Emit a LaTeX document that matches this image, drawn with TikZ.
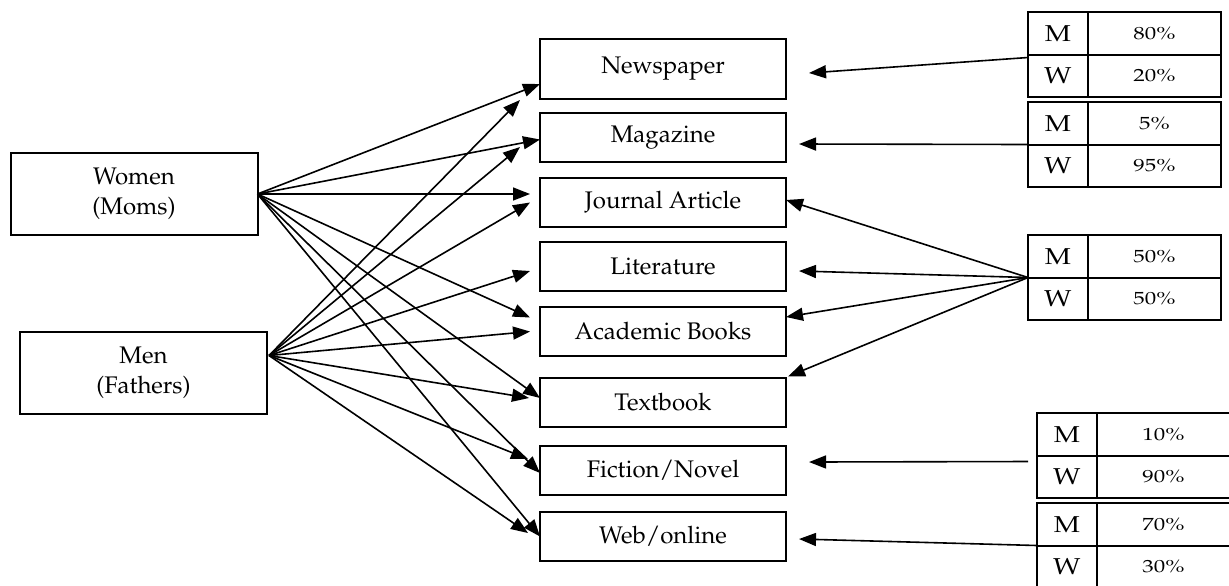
\documentclass[tikz,border=0pt]{standalone}
\usepackage[T1]{fontenc}
\usepackage{palatino}
\usetikzlibrary{arrows.meta,
                calc,
                positioning}

% table text is set a little wider than normal
\newcommand\wide[2][1.2]{\scalebox{#1}[1]{#2}}
% one M/W table: name, top-left corner, M value, W value
\newcommand\pctable[5]{%
    \node[lcell, anchor=north west] (#1m) at (#2,#3) {\wide{M}};
    \node[vcell, anchor=north west] (#1mv) at (#1m.north east) {\wide[1.3]{#4}};
    \node[lcell, anchor=north west] (#1w) at (#1m.south west) {\wide{W}};
    \node[vcell, anchor=north west] (#1wv) at (#1w.north east) {\wide[1.3]{#5}};
}

\begin{document}
\begin{tikzpicture}[x=0.5pt, y=-0.5pt,
every node/.style = {font=\fontsize{12}{15}\selectfont},
box/.style   = {draw, line width=1pt, inner sep=0pt, outer sep=0pt,
                align=center},
group/.style = {box, minimum width=123.5pt, minimum height=41pt},
media/.style = {box, minimum width=123pt, minimum height=24.5pt},
lcell/.style = {box, minimum width=30pt, minimum height=21.25pt,
                font=\fontsize{11.5}{13}\selectfont},
vcell/.style = {box, minimum width=66.5pt, minimum height=21.25pt,
                font=\fontsize{8.8}{10}\selectfont},
arr/.style   = {draw, line width=0.8pt,
                -{Triangle[length=8.5pt, width=6.5pt]}}
                    ]
\useasboundingbox (0,0) rectangle (1229,585);
% parents
\node[group] (women) at (134,194)   {Women\\(Moms)};
\node[group] (men)   at (143.5,372.5) {Men\\(Fathers)};
\coordinate (menout) at ($(men.east)+(2,-17)$);
% reading material
\node[media, minimum height=30pt] (news) at (663,69) {Newspaper};
\node[media] (mag)  at (663,137.5) {Magazine};
\node[media] (jour) at (663,202.5) {Journal Article};
\node[media] (lit)  at (663,266.5) {Literature};
\node[media] (acad) at (663,331.5) {Academic Books};
\node[media] (text) at (663,402)   {Textbook};
\node[media] (fict) at (663,470.5) {Fiction/Novel};
\node[media] (web)  at (663,536.5) {Web/online};
% shares
\pctable{ta}{1028}{12}{80\%}{20\%}
\pctable{tb}{1028}{102}{5\%}{95\%}
\pctable{tc}{1028}{235}{50\%}{50\%}
\pctable{td}{1037}{413}{10\%}{90\%}
\pctable{te}{1037}{503}{70\%}{30\%}
%
\foreach \t/\dx/\dy in {news/0/15, mag/0/2, jour/-10/-8.5, acad/-10/-14,
                        text/0/-4, fict/0/2.5, web/0/0}
    \draw[arr] (women.east) -- ($(\t.west)+(\dx,\dy)$);
\foreach \t/\dx/\dy in {news/-20/31, mag/-20/9.5, jour/-10/0, lit/-10/4.5,
                        acad/-10/0, text/-11/-4, fict/-12/-11.5, web/-12/-3.5}
    \draw[arr] (menout) -- ($(\t.west)+(\dx,\dy)$);
%
\draw[arr] ($(taw.north west)+(0,3)$) -- ($(news.east)+(23,4)$);
\draw[arr] (tbw.north west) -- ($(mag.east)+(13,6.5)$);
\foreach \t/\dx/\dy in {jour/0/-2.5, lit/13/4.5, acad/0/-14.5}
    \draw[arr] (tcw.north west) -- ($(\t.east)+(\dx,\dy)$);
\draw[arr] (tcw.north west) -- ($(text.north east)+(2,-1)$);
\draw[arr] ($(tdw.north west)+(-9,6)$) -- ($(fict.east)+(23,-8.5)$);
\draw[arr] (tew.north west) -- ($(web.east)+(13,2.5)$);
\end{tikzpicture}
\end{document}
